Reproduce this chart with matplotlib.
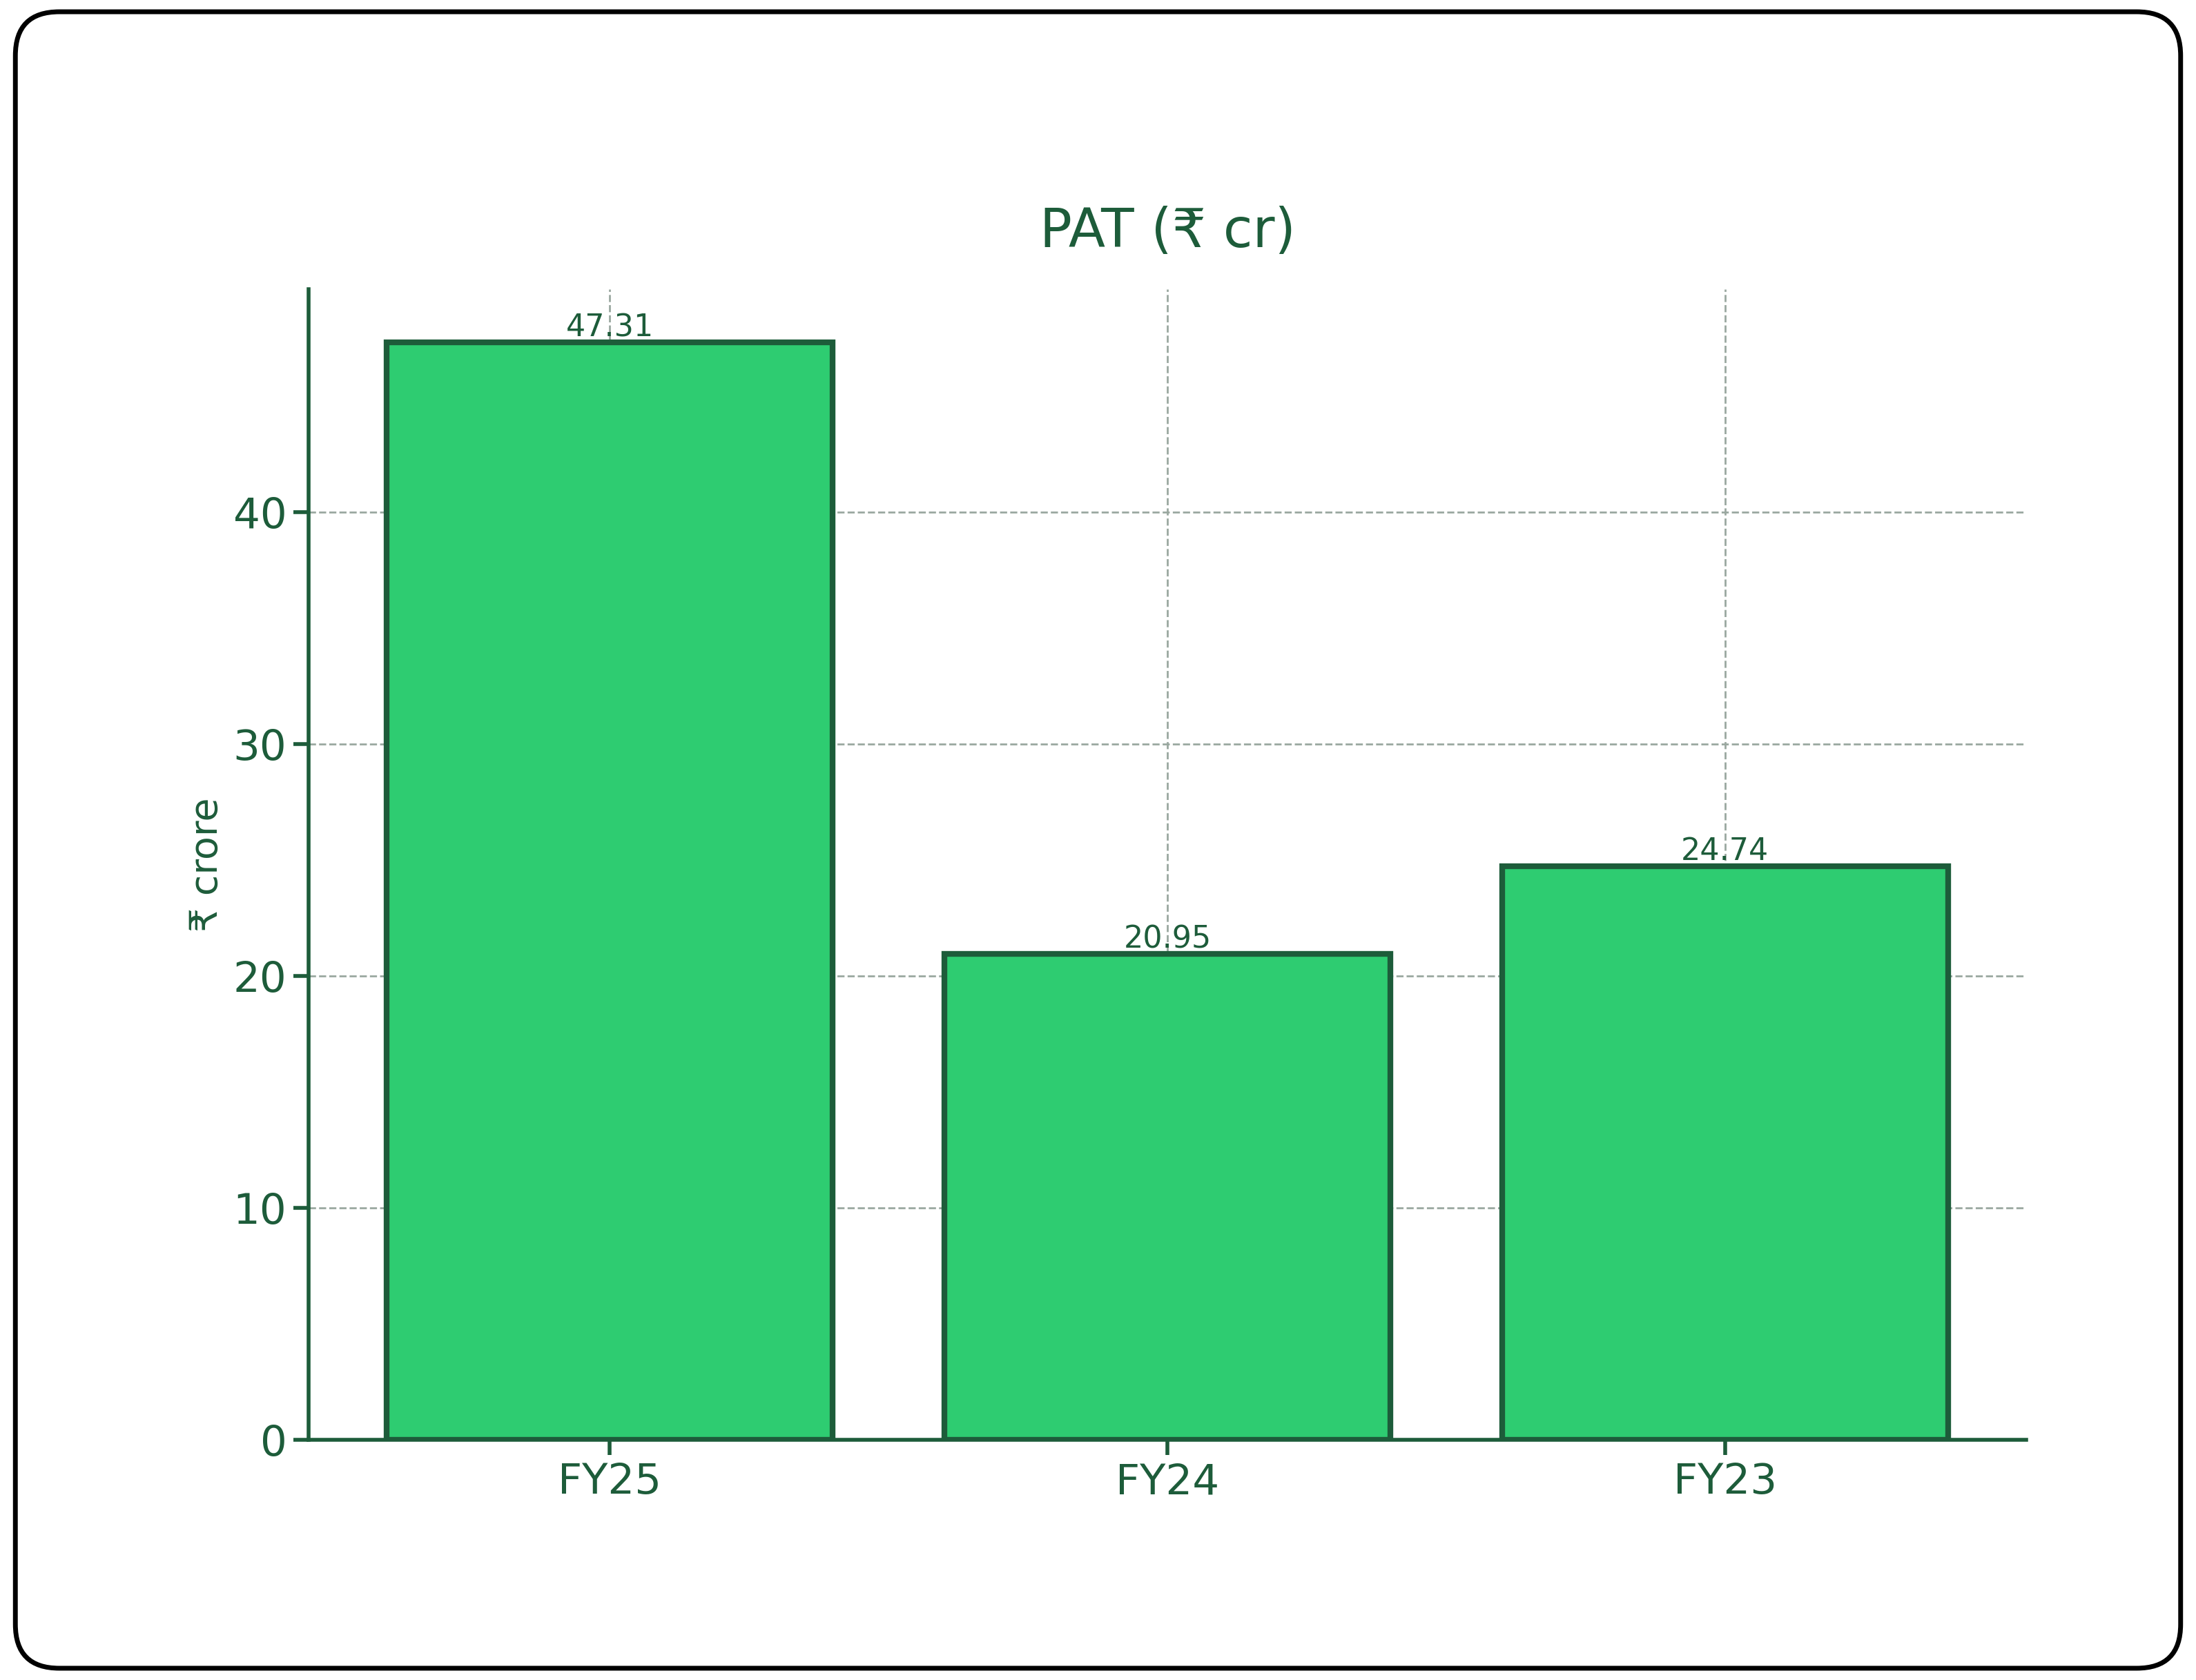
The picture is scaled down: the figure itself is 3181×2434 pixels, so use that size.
import matplotlib
matplotlib.use("Agg")
import matplotlib.pyplot as plt
from matplotlib.patches import FancyBboxPatch

categories = ["FY25", "FY24", "FY23"]
values = [47.31, 20.95, 24.74]

dark = "#1D5C3A"
fig = plt.figure(figsize=(15.905, 12.17), dpi=200)
frame = FancyBboxPatch((0.007, 0.007), 0.986, 0.986, boxstyle="round,pad=0,rounding_size=0.02",
                       transform=fig.transFigure, fill=False, edgecolor="black", linewidth=2.5,
                       mutation_aspect=15.905/12.17)
fig.patches.append(frame)

ax = fig.add_axes([0.1406, 0.1429, 0.7820, 0.6848])
bars = ax.bar(categories, values, width=0.8, color="#2ECC71", edgecolor=dark, linewidth=3, zorder=3)
for b, v in zip(bars, values):
    ax.text(b.get_x() + b.get_width()/2, v, f"{v:.2f}", ha="center", va="bottom",
            fontsize=16, color=dark, zorder=4)
ax.set_xlim(-0.54, 2.54)
ax.set_ylim(0, 49.6)
ax.set_yticks([0, 10, 20, 30, 40])
ax.grid(True, linestyle="--", color="#9AA8A0", linewidth=1, zorder=0)
for s in ["top", "right"]:
    ax.spines[s].set_visible(False)
for s in ["left", "bottom"]:
    ax.spines[s].set_color(dark)
    ax.spines[s].set_linewidth(2)
ax.tick_params(colors=dark, labelsize=22, width=2, length=8)
ax.set_ylabel("₹ crore", fontsize=20, color=dark)
ax.set_title("PAT (₹ cr)", fontsize=28, color=dark, pad=22)
fig.savefig("out.png", dpi=200)
